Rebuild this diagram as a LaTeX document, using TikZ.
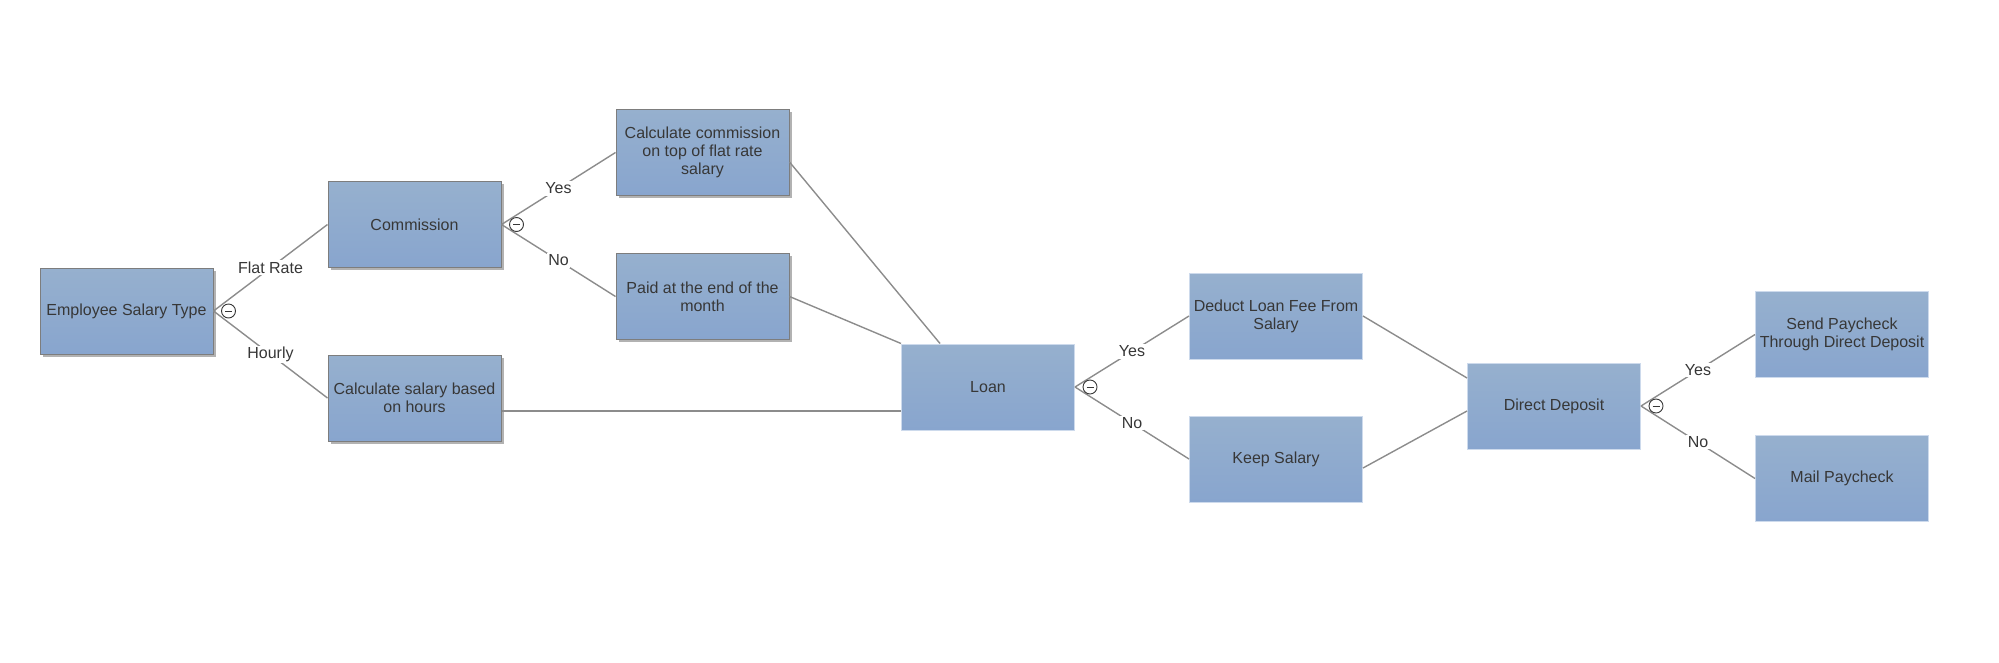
\documentclass[tikz,border=0pt]{standalone}
\usepackage{fontspec}
\setmainfont{Liberation Sans}
\usetikzlibrary{shadows}
\definecolor{boxtop}{RGB}{150,176,206}
\definecolor{boxbot}{RGB}{136,165,206}
\definecolor{txt}{RGB}{55,55,55}
\definecolor{ln}{RGB}{140,140,140}
\definecolor{lbord}{RGB}{125,125,125}
\definecolor{rbord}{RGB}{205,218,236}
\begin{document}
\begin{tikzpicture}[x=1pt,y=-1pt,
 box/.style={rectangle, top color=boxtop, bottom color=boxbot, minimum width=173pt, minimum height=86pt, inner sep=2pt, align=center, text=txt, font=\fontsize{16}{18}\selectfont},
 lbox/.style={box, draw=lbord, line width=1pt, drop shadow={shadow xshift=2.5pt, shadow yshift=-2.5pt, fill=black, opacity=0.3}},
 rbox/.style={box, draw=rbord, line width=1pt},
 conn/.style={draw=ln, line width=1.4pt},
 lab/.style={fill=white, text=txt, font=\fontsize{16}{18}\selectfont, inner sep=1.5pt},
 minusc/.style={circle, draw=txt, fill=white, line width=0.9pt, minimum size=14pt, inner sep=0pt,
   path picture={\draw[txt, line width=0.9pt] ([xshift=-3.5pt]path picture bounding box.center) -- ([xshift=3.5pt]path picture bounding box.center);}}
]
\useasboundingbox (0,0) rectangle (1999,662);

% nodes
\node[lbox] (est)  at (126.5,311)  {Employee Salary Type};
\node[lbox] (com)  at (414.5,224.5) {Commission};
\node[lbox] (hrs)  at (414.5,398)  {Calculate salary based\\on hours};
\node[lbox] (cc)   at (702.5,152.5) {Calculate commission\\on top of flat rate\\salary};
\node[lbox] (paid) at (702.5,296.5) {Paid at the end of the\\month};
\node[rbox] (loan) at (988,387)    {Loan};
\node[rbox] (ded)  at (1276,316)   {Deduct Loan Fee From\\Salary};
\node[rbox] (keep) at (1276,459)   {Keep Salary};
\node[rbox] (dd)   at (1554,406)   {Direct Deposit};
\node[rbox] (send) at (1842,334.5) {Send Paycheck\\Through Direct Deposit};
\node[rbox] (mail) at (1842,478.5) {Mail Paycheck};

% connectors
\draw[conn] (est.east) -- node[lab] {Flat Rate} (com.west);
\draw[conn] (est.east) -- node[lab] {Hourly} (hrs.west);
\draw[conn] (com.east) -- node[lab] {Yes} (cc.west);
\draw[conn] (com.east) -- node[lab] {No} (paid.west);
\draw[conn] ([yshift=-9.5pt]cc.east) -- ([xshift=39pt]loan.north west);
\draw[conn] (paid.east) -- (loan.north west);
\draw[conn] ([yshift=-13pt]hrs.east) -- ([yshift=-13pt]hrs.east -| loan.west);
\draw[conn] (loan.east) -- node[lab] {Yes} (ded.west);
\draw[conn] (loan.east) -- node[lab] {No} (keep.west);
\draw[conn] (ded.east) -- ([yshift=28pt]dd.west);
\draw[conn] ([yshift=-9pt]keep.east) -- ([yshift=-5pt]dd.west);
\draw[conn] (dd.east) -- node[lab] {Yes} (send.west);
\draw[conn] (dd.east) -- node[lab] {No} (mail.west);

% collapse marks
\node[minusc] (m1) at ([xshift=15pt]est.east) {};
\node[minusc] (m2) at ([xshift=15pt]com.east) {};
\node[minusc] (m3) at ([xshift=15pt]loan.east) {};
\node[minusc] (m4) at ([xshift=15pt]dd.east) {};
\end{tikzpicture}
\end{document}
